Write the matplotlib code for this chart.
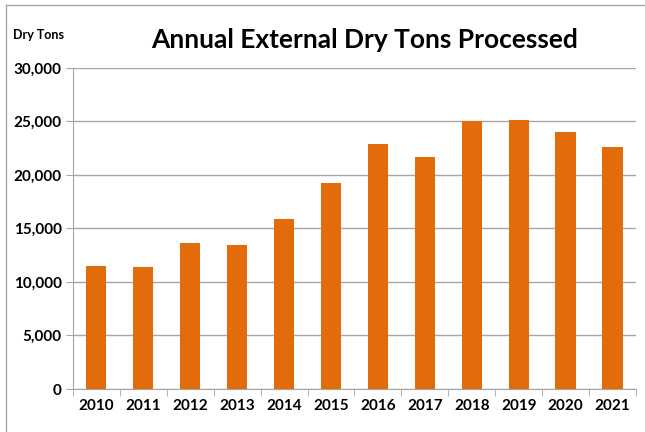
import matplotlib.pyplot as plt
from matplotlib.lines import Line2D
from matplotlib.ticker import FuncFormatter

# datos
years = ['2010', '2011', '2012', '2013', '2014', '2015',
         '2016', '2017', '2018', '2019', '2020', '2021']
dry_tons = [11500, 11370, 13620, 13460, 15860, 19250,
            22920, 21650, 25020, 25140, 23990, 22650]
y_ticks = [0, 5000, 10000, 15000, 20000, 25000, 30000]

plt.rcParams['font.family'] = ['Lato', 'DejaVu Sans']

fig = plt.figure(figsize=(6.45, 4.32), dpi=100)
ax = fig.add_axes([0.113, 0.0995, 0.873, 0.7435])

x = range(len(years))
ax.bar(x, dry_tons, width=0.43, color='#E36C0A', zorder=3)

ax.set_xlim(-0.5, len(years) - 0.5)
ax.set_ylim(0, 30000)
ax.set_yticks(y_ticks)
ax.yaxis.set_major_formatter(FuncFormatter(lambda v, p: f'{int(v):,}'))
ax.set_xticks(list(x))
ax.set_xticklabels(years)
ax.set_xticks([i - 0.5 for i in range(len(years) + 1)], minor=True)

ax.grid(axis='y', color='#A6A6A6', linewidth=1, zorder=0)
for s in ['top', 'right']:
    ax.spines[s].set_visible(False)
ax.spines['left'].set_color('#A6A6A6')
ax.spines['bottom'].set_color('#A6A6A6')

ax.tick_params(axis='y', length=5, color='#A6A6A6', labelsize=11, pad=3)
ax.tick_params(axis='x', which='major', length=0, labelsize=11, pad=7)
ax.tick_params(axis='x', which='minor', length=5, color='#A6A6A6')
for lbl in ax.get_xticklabels() + ax.get_yticklabels():
    lbl.set_fontweight('bold')

fig.text(0.566, 0.908, 'Annual External Dry Tons Processed', ha='center', va='center',
         fontsize=19, fontweight='bold')
fig.text(0.02, 0.918, 'Dry Tons', ha='left', va='center', fontsize=9, fontweight='bold')

# marco del grafico
fig.add_artist(Line2D([0.009, 0.009], [0, 0.988], color='#A6A6A6', lw=1, transform=fig.transFigure))
fig.add_artist(Line2D([0.009, 1], [0.988, 0.988], color='#A6A6A6', lw=1, transform=fig.transFigure))

plt.savefig('out.png', dpi=100)
